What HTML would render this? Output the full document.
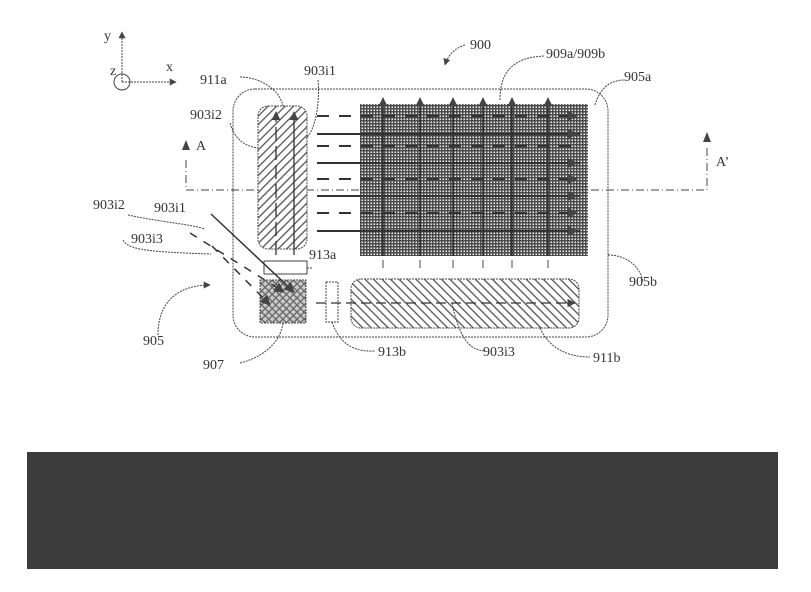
<!DOCTYPE html>
<html><head><meta charset="utf-8"><style>
html,body{margin:0;padding:0;background:#fff;}
svg{display:block;}
text{font-family:"Liberation Serif",serif;font-size:14px;fill:#333;}
</style></head><body>
<svg width="811" height="592" viewBox="0 0 811 592" xmlns="http://www.w3.org/2000/svg">
<defs>
<pattern id="grid" width="3" height="3" patternUnits="userSpaceOnUse">
<rect width="3" height="3" fill="#eee"/>
<rect width="1.5" height="3" fill="#4a4a4a"/>
<rect width="3" height="1.5" fill="#4a4a4a"/>
</pattern>
<pattern id="hatchR" width="6" height="6" patternUnits="userSpaceOnUse" patternTransform="rotate(45)">
<rect width="6" height="6" fill="#fff"/><rect width="1.3" height="6" fill="#555"/>
</pattern>
<pattern id="hatchL" width="6" height="6" patternUnits="userSpaceOnUse" patternTransform="rotate(-45)">
<rect width="6" height="6" fill="#fff"/><rect width="1.3" height="6" fill="#555"/>
</pattern>
<pattern id="cross" width="5" height="5" patternUnits="userSpaceOnUse" patternTransform="rotate(45)">
<rect width="5" height="5" fill="#ccc"/><rect width="1.3" height="5" fill="#666"/><rect width="5" height="1.3" fill="#666"/>
</pattern>
<marker id="ar" viewBox="0 0 10 10" refX="9" refY="5" markerWidth="7" markerHeight="7" orient="auto"><path d="M0,0 L10,5 L0,10z" fill="#444"/></marker>
</defs>
<g stroke="#444" fill="none" stroke-width="1">
<line x1="122" y1="82" x2="122" y2="32" stroke-dasharray="2,1" marker-end="url(#ar)"/>
<line x1="122" y1="82" x2="176" y2="82" stroke-dasharray="2,1" marker-end="url(#ar)"/>
<circle cx="122" cy="82" r="8"/>
<rect x="233" y="89" width="375" height="248" rx="22" stroke-dasharray="2,1"/>
</g>
<rect x="360" y="104" width="228" height="152" fill="url(#grid)"/>
<g stroke="#222" stroke-width="1.3" fill="none">
<line x1="383" y1="256" x2="383" y2="98" marker-end="url(#ar)"/>
<line x1="420" y1="256" x2="420" y2="98" marker-end="url(#ar)"/>
<line x1="453" y1="256" x2="453" y2="98" marker-end="url(#ar)"/>
<line x1="483" y1="256" x2="483" y2="98" marker-end="url(#ar)"/>
<line x1="512" y1="256" x2="512" y2="98" marker-end="url(#ar)"/>
<line x1="548" y1="256" x2="548" y2="98" marker-end="url(#ar)"/>
</g>
<g stroke="#333" stroke-width="2">
<line x1="317" y1="116" x2="580" y2="116" stroke-dasharray="12,10"/>
<line x1="317" y1="134" x2="580" y2="134"/>
<line x1="317" y1="146" x2="580" y2="146" stroke-dasharray="12,10"/>
<line x1="317" y1="163" x2="580" y2="163"/>
<line x1="317" y1="179" x2="580" y2="179" stroke-dasharray="12,10"/>
<line x1="317" y1="196" x2="580" y2="196"/>
<line x1="317" y1="213" x2="580" y2="213" stroke-dasharray="12,10"/>
<line x1="317" y1="231" x2="580" y2="231"/>
</g>
<g fill="#444">
<path d="M568,111 l10,5 l-10,5z"/><path d="M568,129 l10,5 l-10,5z"/><path d="M568,158 l10,5 l-10,5z"/><path d="M568,174 l10,5 l-10,5z"/><path d="M568,191 l10,5 l-10,5z"/><path d="M568,208 l10,5 l-10,5z"/><path d="M568,226 l10,5 l-10,5z"/>
</g>
<g stroke="#444" stroke-width="1">
<line x1="383" y1="260" x2="383" y2="268"/><line x1="420" y1="260" x2="420" y2="268"/><line x1="453" y1="260" x2="453" y2="268"/><line x1="483" y1="260" x2="483" y2="268"/><line x1="512" y1="260" x2="512" y2="268"/><line x1="548" y1="260" x2="548" y2="268"/>
</g>
<g stroke="#444" fill="none" stroke-width="1" stroke-dasharray="8,3,1,3">
<polyline points="186,160 186,190 707,190 707,148"/>
</g>
<path d="M182,150 l4,-10 l4,10z M703,142 l4,-10 l4,10z" fill="#444"/>
<rect x="258" y="106" width="49" height="143" rx="10" fill="url(#hatchR)" stroke="#444" stroke-dasharray="2,1"/>
<g stroke="#333" stroke-width="1.3" fill="none">
<line x1="276" y1="255" x2="276" y2="112" stroke-dasharray="14,5" marker-end="url(#ar)"/>
<line x1="294" y1="255" x2="294" y2="112" marker-end="url(#ar)"/>
</g>
<rect x="264" y="261" width="43" height="13" fill="#fff" stroke="#444"/>
<rect x="260" y="280" width="46" height="43" fill="url(#cross)" stroke="#444" stroke-dasharray="2,1"/>
<rect x="326" y="282" width="12" height="40" fill="#fff" stroke="#444" stroke-dasharray="2,1"/>
<rect x="351" y="279" width="228" height="49" rx="10" fill="url(#hatchL)" stroke="#444" stroke-dasharray="2,1"/>
<line x1="316" y1="303" x2="575" y2="303" stroke="#333" stroke-width="1.2" stroke-dasharray="10,5" marker-end="url(#ar)"/>
<g stroke="#333" stroke-width="1.5" fill="none">
<line x1="211" y1="214" x2="294" y2="292" marker-end="url(#ar)"/>
<line x1="190" y1="233" x2="284" y2="292" stroke-dasharray="8,8" marker-end="url(#ar)"/>
<line x1="212" y1="246" x2="270" y2="305" stroke-dasharray="8,8" marker-end="url(#ar)"/>
</g>
<g stroke="#444" fill="none" stroke-width="1" stroke-dasharray="2,1">
<path d="M240,77 C260,77 280,90 283,106"/>
<path d="M230,123 C235,140 245,146 258,148"/>
<path d="M318,80 C320,100 316,130 306,138"/>
<path d="M128,215 C160,222 190,224 205,229"/>
<path d="M123,240 C128,250 150,252 211,254"/>
<path d="M307,268 L312,268"/>
<path d="M158,335 C158,300 180,285 210,285" marker-end="url(#ar)"/>
<path d="M240,363 C260,358 280,345 283,323"/>
<path d="M332,322 C340,345 355,352 375,351"/>
<path d="M452,303 C460,340 470,350 485,351"/>
<path d="M540,328 C550,350 570,357 590,357"/>
<path d="M608,255 C625,255 640,265 643,282"/>
<path d="M595,105 C600,88 610,80 625,80"/>
<path d="M500,100 C500,75 510,57 545,56"/>
<path d="M465,45 C455,48 448,55 445,65" marker-end="url(#ar)"/>
</g>
<text x="104" y="40">y</text>
<text x="166" y="71">x</text>
<text x="110" y="75" font-size="12">z</text>
<text x="200" y="84">911a</text>
<text x="304" y="75">903i1</text>
<text x="190" y="119">903i2</text>
<text x="196" y="150">A</text>
<text x="93" y="209">903i2</text>
<text x="154" y="212">903i1</text>
<text x="131" y="243">903i3</text>
<text x="309" y="259">913a</text>
<text x="143" y="345">905</text>
<text x="203" y="369">907</text>
<text x="378" y="356">913b</text>
<text x="483" y="356">903i3</text>
<text x="593" y="362">911b</text>
<text x="629" y="286">905b</text>
<text x="624" y="81">905a</text>
<text x="546" y="58">909a/909b</text>
<text x="470" y="49">900</text>
<text x="716" y="166">A’</text>
</svg>
<div style="position:absolute;left:27px;top:452px;width:751px;height:117px;background:#3b3b3b;"></div>
</body></html>
